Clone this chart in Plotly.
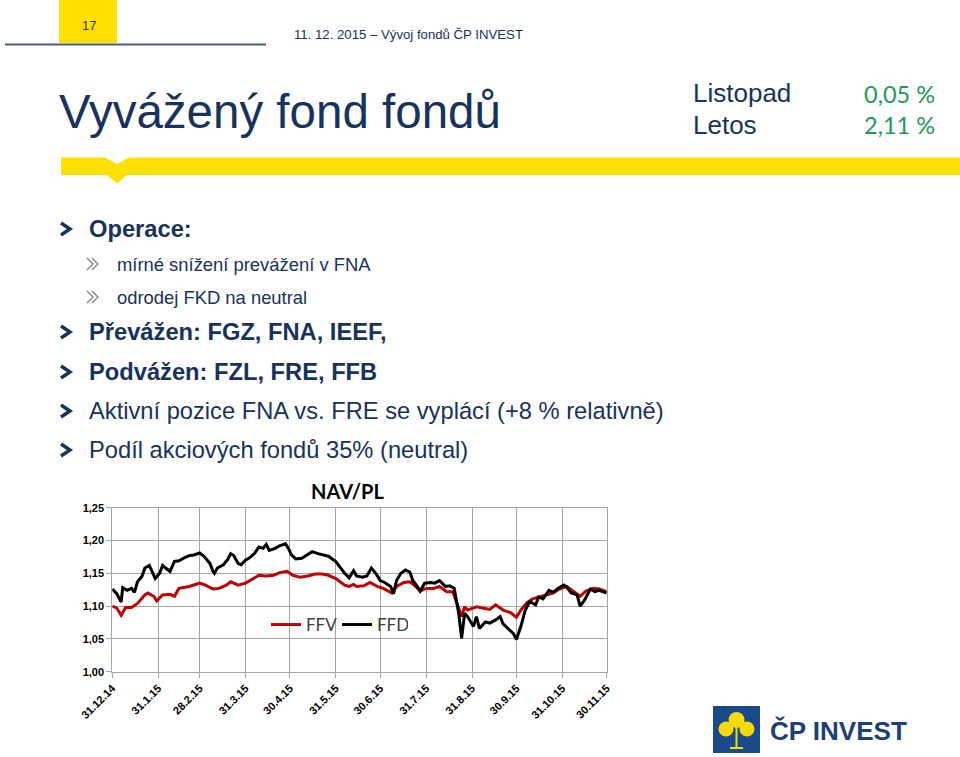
import plotly.graph_objects as go

W, H = 960, 757

# ---------------- data ----------------
ffd_dates = ["2014-12-31","2015-01-03","2015-01-06","2015-01-07","2015-01-10","2015-01-13","2015-01-15",
 "2015-01-17","2015-01-20","2015-01-22","2015-01-25","2015-01-27","2015-01-29","2015-02-01","2015-02-03",
 "2015-02-05","2015-02-08","2015-02-11","2015-02-14","2015-02-18","2015-02-21","2015-02-24","2015-02-28",
 "2015-03-03","2015-03-07","2015-03-09","2015-03-10","2015-03-12","2015-03-16","2015-03-19","2015-03-21",
 "2015-03-23","2015-03-26","2015-03-28","2015-03-31","2015-04-03","2015-04-06","2015-04-09","2015-04-12",
 "2015-04-14","2015-04-16","2015-04-20","2015-04-23","2015-04-27","2015-04-29","2015-05-01","2015-05-04",
 "2015-05-08","2015-05-12","2015-05-15","2015-05-19","2015-05-22","2015-05-26","2015-05-31","2015-06-03",
 "2015-06-06","2015-06-09","2015-06-12","2015-06-14","2015-06-18","2015-06-21","2015-06-24","2015-06-27",
 "2015-06-30","2015-07-03","2015-07-07","2015-07-09","2015-07-11","2015-07-14","2015-07-17","2015-07-20",
 "2015-07-22","2015-07-25","2015-07-27","2015-07-30","2015-08-03","2015-08-06","2015-08-09","2015-08-13",
 "2015-08-16","2015-08-19","2015-08-22","2015-08-24","2015-08-26","2015-08-28","2015-09-01","2015-09-03",
 "2015-09-05","2015-09-09","2015-09-12","2015-09-16","2015-09-19","2015-09-21","2015-09-25","2015-09-28",
 "2015-09-30","2015-10-03","2015-10-06","2015-10-09","2015-10-13","2015-10-15","2015-10-18","2015-10-22",
 "2015-10-25","2015-10-28","2015-11-01","2015-11-03","2015-11-06","2015-11-10","2015-11-12","2015-11-15",
 "2015-11-19","2015-11-22","2015-11-25","2015-11-30"]
ffd_values = [1.126,1.119,1.106,1.128,1.124,1.127,1.121,
 1.137,1.145,1.158,1.162,1.152,1.142,1.150,1.162,
 1.158,1.153,1.168,1.169,1.174,1.177,1.178,1.181,
 1.176,1.165,1.153,1.150,1.158,1.163,1.171,1.180,
 1.177,1.165,1.163,1.170,1.174,1.180,1.190,1.188,
 1.194,1.185,1.188,1.192,1.195,1.188,1.178,1.172,
 1.173,1.178,1.183,1.180,1.178,1.176,1.168,1.158,
 1.150,1.143,1.154,1.146,1.144,1.146,1.158,1.150,
 1.139,1.136,1.130,1.119,1.139,1.150,1.155,1.152,
 1.139,1.130,1.123,1.135,1.136,1.135,1.139,1.130,
 1.131,1.127,1.089,1.051,1.089,1.084,1.069,1.084,
 1.066,1.076,1.074,1.079,1.084,1.073,1.064,1.058,
 1.049,1.069,1.094,1.107,1.102,1.114,1.111,1.124,
 1.121,1.127,1.132,1.129,1.120,1.117,1.100,1.109,
 1.126,1.122,1.124,1.120]

ffv_dates = ["2014-12-31","2015-01-03","2015-01-06","2015-01-09","2015-01-13","2015-01-17","2015-01-22",
 "2015-01-24","2015-01-28","2015-01-30","2015-02-03","2015-02-08","2015-02-11","2015-02-14","2015-02-21",
 "2015-02-28","2015-03-04","2015-03-09","2015-03-13","2015-03-18","2015-03-21","2015-03-26","2015-03-31",
 "2015-04-04","2015-04-09","2015-04-14","2015-04-19","2015-04-23","2015-04-28","2015-05-02","2015-05-07",
 "2015-05-12","2015-05-17","2015-05-22","2015-05-26","2015-05-31","2015-06-03","2015-06-06","2015-06-09",
 "2015-06-12","2015-06-14","2015-06-19","2015-06-23","2015-06-28","2015-07-02","2015-07-08","2015-07-11",
 "2015-07-16","2015-07-20","2015-07-23","2015-07-27","2015-07-31","2015-08-05","2015-08-09","2015-08-14",
 "2015-08-18","2015-08-22","2015-08-24","2015-08-26","2015-08-28","2015-09-03","2015-09-07","2015-09-12",
 "2015-09-16","2015-09-21","2015-09-26","2015-09-30","2015-10-03","2015-10-07","2015-10-11","2015-10-16",
 "2015-10-20","2015-10-25","2015-10-29","2015-11-03","2015-11-07","2015-11-12","2015-11-16","2015-11-21",
 "2015-11-25","2015-11-30"]
ffv_values = [1.100,1.097,1.086,1.098,1.098,1.104,1.117,
 1.120,1.115,1.108,1.117,1.118,1.115,1.127,1.130,
 1.135,1.132,1.126,1.127,1.132,1.137,1.132,1.135,
 1.140,1.147,1.146,1.147,1.151,1.153,1.147,1.144,
 1.146,1.149,1.149,1.147,1.142,1.137,1.132,1.130,
 1.133,1.130,1.131,1.136,1.130,1.127,1.120,1.130,
 1.136,1.137,1.132,1.123,1.127,1.127,1.130,1.122,
 1.122,1.097,1.084,1.099,1.094,1.099,1.097,1.095,
 1.102,1.094,1.090,1.083,1.094,1.105,1.111,1.115,
 1.117,1.120,1.126,1.130,1.123,1.115,1.123,1.127,
 1.126,1.122]

tick_dates = ["2014-12-31","2015-01-31","2015-02-28","2015-03-31","2015-04-30","2015-05-31",
              "2015-06-30","2015-07-31","2015-08-31","2015-09-30","2015-10-31","2015-11-30"]
tick_labels = ["31.12.14","31.1.15","28.2.15","31.3.15","30.4.15","31.5.15",
               "30.6.15","31.7.15","31.8.15","30.9.15","31.10.15","30.11.15"]
y_ticks = [1.00, 1.05, 1.10, 1.15, 1.20, 1.25]

series_names = ["FFV", "FFD"]

NAVY = "#18325E"
YELLOW = "#FFE000"
GRID = "#A6A6A6"


def px(x):
    return x / W


def py(y):
    return 1 - y / H


def P(x, y):
    return f"{px(x):.5f},{py(y):.5f}"


fig = go.Figure()
fig.add_trace(go.Scatter(x=ffv_dates, y=ffv_values, mode="lines", name=series_names[0],
                         line=dict(color="#C00000", width=3)))
fig.add_trace(go.Scatter(x=ffd_dates, y=ffd_values, mode="lines", name=series_names[1],
                         line=dict(color="#000000", width=3)))

fig.update_layout(
    width=W, height=H,
    margin=dict(l=0, r=0, t=0, b=0, pad=0, autoexpand=False),
    paper_bgcolor="white", plot_bgcolor="white",
    separators=", ",
    font=dict(family="Liberation Sans, Arial, sans-serif", color=NAVY),
    xaxis=dict(domain=[px(112.3), px(606.7)], type="date", automargin=False,
               range=[tick_dates[0], tick_dates[-1]],
               tickmode="array", tickvals=tick_dates, ticktext=tick_labels,
               tickangle=-45, tickfont=dict(size=11, color="#000000", weight="bold"),
               showgrid=True, gridcolor=GRID, gridwidth=1,
               ticks="outside", ticklen=5, tickcolor=GRID,
               showline=True, linecolor=GRID, linewidth=1, mirror=True, zeroline=False),
    yaxis=dict(domain=[py(671.7), py(507.7)], range=[1.0, 1.25], automargin=False,
               tickmode="array", tickvals=y_ticks, tickformat=".2f",
               tickfont=dict(size=11, color="#000000", weight="bold"),
               showgrid=True, gridcolor=GRID, gridwidth=1,
               ticks="outside", ticklen=5, tickcolor=GRID,
               showline=True, linecolor=GRID, linewidth=1, mirror=True, zeroline=False),
    legend=dict(orientation="h", x=px(266), y=py(625), xanchor="left", yanchor="middle",
                bgcolor="rgba(0,0,0,0)", font=dict(size=17, color="#404040", family="Lato, sans-serif"),
                entrywidth=26, entrywidthmode="pixels", itemwidth=30),
    showlegend=True,
)

shapes = []
annotations = []

# page number box and header line
shapes.append(dict(type="rect", xref="paper", yref="paper", x0=px(59), x1=px(117), y0=py(43), y1=py(0),
                   fillcolor=YELLOW, line=dict(width=0), layer="below"))
shapes.append(dict(type="line", xref="paper", yref="paper", x0=px(5), x1=px(266), y0=py(44.5), y1=py(44.5),
                   line=dict(color="#4A5E7A", width=2)))
annotations.append(dict(text="17", x=px(89), y=py(25), xref="paper", yref="paper", showarrow=False,
                        xanchor="center", yanchor="middle", font=dict(size=13, color="#333333")))
annotations.append(dict(text="11. 12. 2015 – Vývoj fondů ČP INVEST", x=px(292), y=py(34), xref="paper",
                        yref="paper", showarrow=False, xanchor="left", yanchor="middle",
                        font=dict(size=13.2, color=NAVY)))

# title
annotations.append(dict(text="Vyvážený fond fondů", x=px(57), y=py(111), xref="paper", yref="paper",
                        showarrow=False, xanchor="left", yanchor="middle", font=dict(size=47.5, color=NAVY)))
annotations.append(dict(text="Listopad", x=px(691), y=py(93), xref="paper", yref="paper", showarrow=False,
                        xanchor="left", yanchor="middle", font=dict(size=26, color=NAVY)))
annotations.append(dict(text="Letos", x=px(691), y=py(125), xref="paper", yref="paper", showarrow=False,
                        xanchor="left", yanchor="middle", font=dict(size=26, color=NAVY)))
annotations.append(dict(text="0,05 %", x=px(937), y=py(94), xref="paper", yref="paper", showarrow=False,
                        xanchor="right", yanchor="middle", font=dict(size=23.5, color="#22995A", family="Lato, sans-serif")))
annotations.append(dict(text="2,11 %", x=px(937), y=py(125), xref="paper", yref="paper", showarrow=False,
                        xanchor="right", yanchor="middle", font=dict(size=23.5, color="#22995A", family="Lato, sans-serif")))

# yellow bar with notch
bar_path = ("M " + " L ".join([P(61, 157.5), P(105, 157.5), P(117, 164), P(129, 157.5), P(960, 157.5),
                               P(960, 175), P(127, 175), P(117, 183.5), P(107, 175), P(61, 175)]) + " Z")
shapes.append(dict(type="path", xref="paper", yref="paper", path=bar_path, fillcolor=YELLOW,
                   line=dict(width=0)))

# bullets
main_bullets = [("<b>Operace:</b>", 229), ("<b>Převážen: FGZ, FNA, IEEF,</b>", 332),
                ("<b>Podvážen: FZL, FRE, FFB</b>", 372),
                ("Aktivní pozice FNA vs. FRE se vyplácí (+8 % relativně)", 411),
                ("Podíl akciových fondů 35% (neutral)", 450)]
for txt, yy in main_bullets:
    shapes.append(dict(type="path", xref="paper", yref="paper",
                       path="M " + P(61, yy - 6) + " L " + P(70, yy) + " L " + P(61, yy + 6),
                       line=dict(color=NAVY, width=3.4)))
    annotations.append(dict(text=txt, x=px(87), y=py(yy), xref="paper", yref="paper", showarrow=False,
                            xanchor="left", yanchor="middle", font=dict(size=23.7, color=NAVY)))

sub_bullets = [("mírné snížení prevážení v FNA", 264), ("odrodej FKD na neutral", 297)]
for txt, yy in sub_bullets:
    for dx in (0, 5):
        shapes.append(dict(type="path", xref="paper", yref="paper",
                           path="M " + P(87 + dx, yy - 6) + " L " + P(93 + dx, yy) + " L " + P(87 + dx, yy + 6),
                           line=dict(color="#7F7F7F", width=1.2)))
    annotations.append(dict(text=txt, x=px(115), y=py(yy), xref="paper", yref="paper", showarrow=False,
                            xanchor="left", yanchor="middle", font=dict(size=18.4, color=NAVY)))

# chart title
annotations.append(dict(text="<b>NAV/PL</b>", x=px(347), y=py(491), xref="paper", yref="paper",
                        showarrow=False, xanchor="center", yanchor="middle",
                        font=dict(size=20, color="#000000", family="Lato, sans-serif")))

# logo
shapes.append(dict(type="rect", xref="paper", yref="paper", x0=px(713), x1=px(760), y0=py(753), y1=py(706),
                   fillcolor="#1B4A8C", line=dict(width=0)))
for cx, cy, r in [(736.5, 720, 8), (726, 729, 7.5), (747, 729, 7.5)]:
    shapes.append(dict(type="circle", xref="paper", yref="paper", x0=px(cx - r), x1=px(cx + r),
                       y0=py(cy + r), y1=py(cy - r), fillcolor="#F5D90A", line=dict(width=0)))
shapes.append(dict(type="path", xref="paper", yref="paper",
                   path="M " + P(736.5, 722) + " L " + P(736.5, 748) + " M " + P(730, 748) + " L " + P(743, 748),
                   line=dict(color="#F5D90A", width=2)))
annotations.append(dict(text="<b>ČP INVEST</b>", x=px(768), y=py(731), xref="paper", yref="paper",
                        showarrow=False, xanchor="left", yanchor="middle",
                        font=dict(size=26, color="#1D3F7A")))

fig.update_layout(shapes=shapes, annotations=annotations)
fig.write_html("out.html")
